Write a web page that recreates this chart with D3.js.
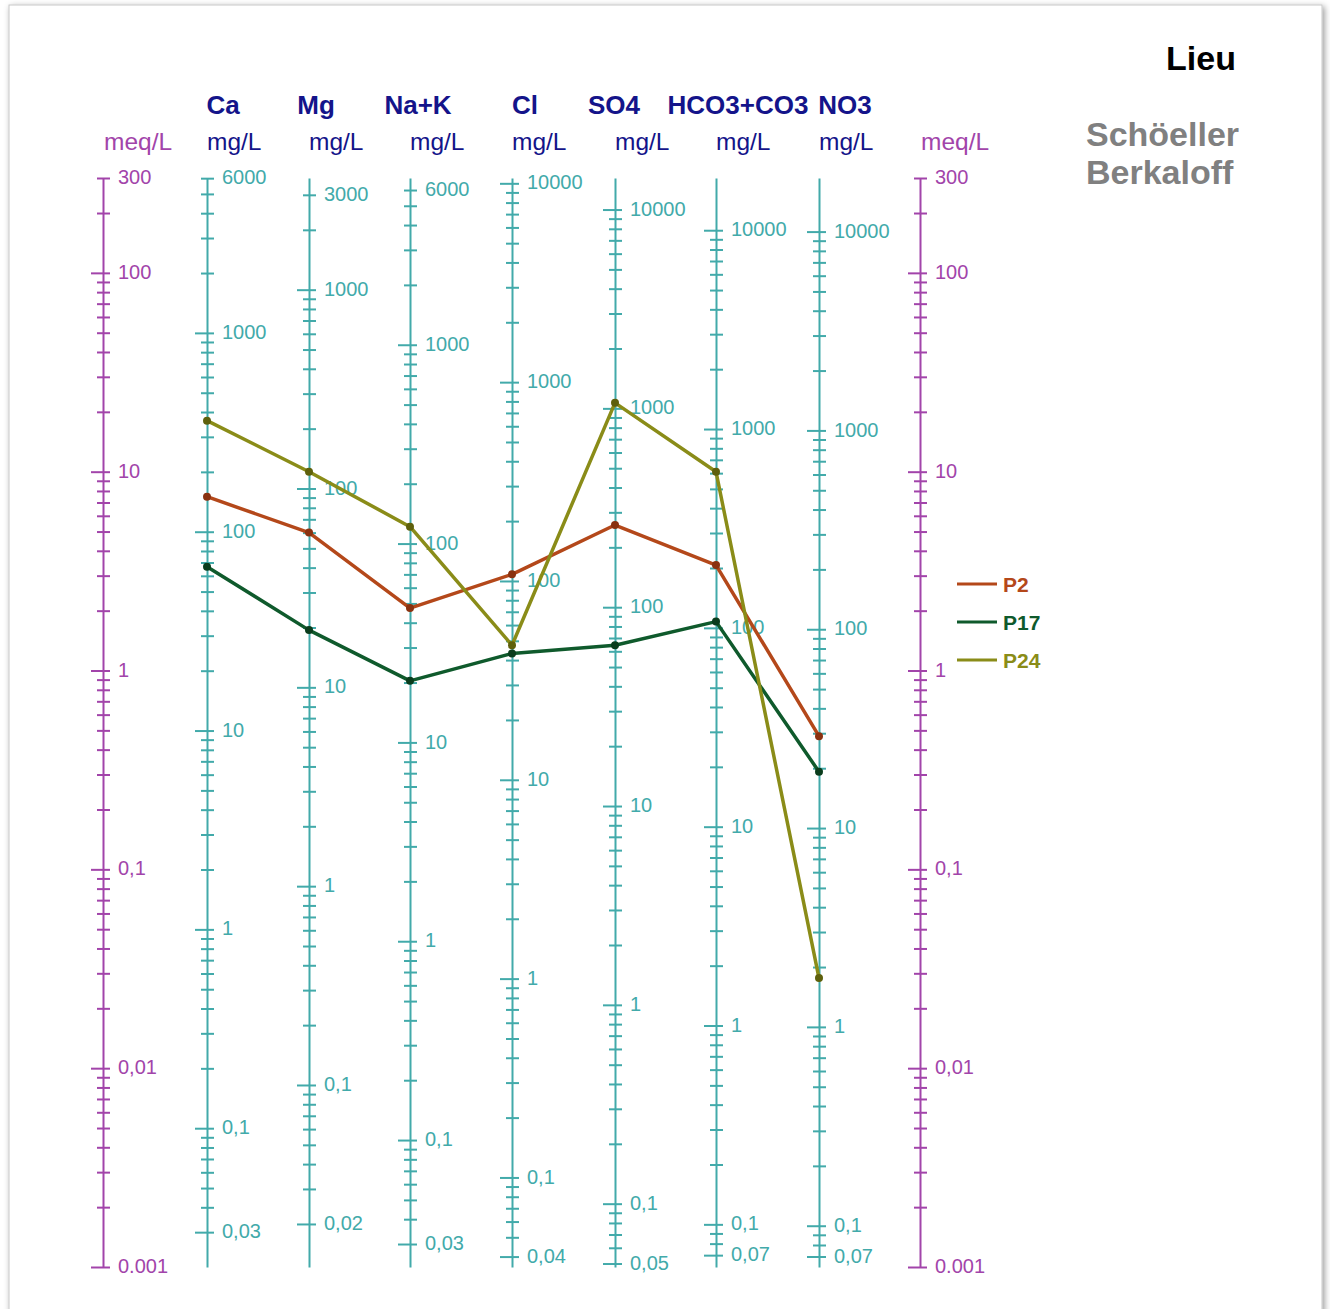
<!DOCTYPE html>
<html><head><meta charset="utf-8">
<script src="https://cdn.jsdelivr.net/npm/d3@7"></script>
<style>body{margin:0;background:#fff}svg{display:block}</style>
</head><body>
<script>
// Schoeller-Berkaloff diagram: concentrations (mg/L) plotted on ion axes
// that share one log meq/L scale.
const ions = ["Ca", "Mg", "Na+K", "Cl", "SO4", "HCO3+CO3", "NO3"];
const eqWeights = [20.04, 12.15, 22.99, 35.45, 48.03, 61.02, 62.0];
const samples = ["P2", "P17", "P24"];
const p2 = [150, 60, 47.4, 108, 259, 207, 29];
const p17 = [66.7, 19.4, 20.4, 43.2, 64.4, 107.5, 19.2];
const p24 = [362, 121.5, 121.6, 47.5, 1066, 610, 1.76];
const sampleColors = ["#b4481a", "#0f5a2c", "#8a8c18"];
const markerColors = ["#8a3210", "#0a3c1c", "#5e600c"];
const meqTickLabels = ["300", "100", "10", "1", "0,1", "0,01", "0.001"];
const ionTickLabels = [
  ["6000", "1000", "100", "10", "1", "0,1", "0,03"],
  ["3000", "1000", "100", "10", "1", "0,1", "0,02"],
  ["6000", "1000", "100", "10", "1", "0,1", "0,03"],
  ["10000", "1000", "100", "10", "1", "0,1", "0,04"],
  ["10000", "1000", "100", "10", "1", "0,1", "0,05"],
  ["10000", "1000", "100", "10", "1", "0,1", "0,07"],
  ["10000", "1000", "100", "10", "1", "0,1", "0,07"]
];
const meqRange = [300, 0.001];

const W = 1330, H = 1309;
const yTop = 178, yBot = 1267;
const meqX = [103, 920];
const ionX = [207, 309, 410, 512, 615, 716, 819];
const headerX = [223, 316, 418, 525, 614, 738, 845];
const teal = "#42aaaa", purple = "#a244aa", navy = "#14148a";
const FONT = "'Liberation Sans', Arial, sans-serif";

const svg = d3.select("body").append("svg").attr("width", W).attr("height", H);
const defs = svg.append("defs");
const f = defs.append("filter").attr("id", "shadow").attr("x", "-5%").attr("y", "-5%").attr("width", "110%").attr("height", "110%");
f.append("feDropShadow").attr("dx", 2).attr("dy", 2).attr("stdDeviation", 3).attr("flood-color", "#000").attr("flood-opacity", 0.4);

// page
svg.append("rect").attr("x", 9).attr("y", 5).attr("width", 1313).attr("height", 1330)
  .attr("fill", "#fff").attr("stroke", "#c8c8c8").attr("filter", "url(#shadow)");

const meqScale = d3.scaleLog().domain(meqRange).range([yTop, yBot]);
const parseLab = s => +s.replace(",", ".");
const same = (a, b) => Math.abs(a / b - 1) < 1e-6;
const isDecade = v => same(v, Math.pow(10, Math.round(Math.log10(v))));

function drawAxis(x, scale, labels, color) {
  const vals = labels.map(parseLab);
  const ticks = scale.ticks();
  const minTick = d3.min(ticks);
  const g = svg.append("g").attr("transform", `translate(${x},0)`);
  g.call(d3.axisRight(scale)
    .tickValues(ticks)
    .tickSize(7).tickSizeOuter(0).tickPadding(8)
    .tickFormat(d => { const i = vals.findIndex(v => same(v, d)); return i >= 0 ? labels[i] : ""; }));
  g.select(".domain").attr("stroke", color).attr("stroke-width", 2);
  g.selectAll(".tick line").attr("stroke", color).attr("stroke-width", 2)
    .attr("x1", d => (isDecade(d) || same(d, minTick)) ? -12 : -6);
  g.selectAll(".tick text").attr("fill", color).attr("dy", "0.28em")
    .style("font-family", FONT).style("font-size", "20px");
  return g;
}

drawAxis(meqX[0], meqScale, meqTickLabels, purple);
drawAxis(meqX[1], meqScale, meqTickLabels, purple);

const ionScales = eqWeights.map(ew =>
  d3.scaleLog().domain([meqRange[0] * ew, meqRange[1] * ew]).range([yTop, yBot]));
ionScales.forEach((s, i) => drawAxis(ionX[i], s, ionTickLabels[i], teal));

// headers
ions.forEach((name, i) => {
  svg.append("text").attr("x", headerX[i]).attr("y", 114).attr("text-anchor", "middle")
    .attr("fill", navy).style("font-family", FONT).style("font-weight", "bold").style("font-size", "26px")
    .text(name);
  svg.append("text").attr("x", ionX[i]).attr("y", 150).attr("fill", navy)
    .style("font-family", FONT).style("font-size", "24.5px").text("mg/L");
});
meqX.forEach(x => svg.append("text").attr("x", x + 1).attr("y", 150).attr("fill", purple)
  .style("font-family", FONT).style("font-size", "24.5px").text("meq/L"));

// title block
svg.append("text").attr("x", 1236).attr("y", 70).attr("text-anchor", "end").attr("fill", "#000")
  .style("font-family", FONT).style("font-weight", "bold").style("font-size", "34px").text("Lieu");
svg.append("text").attr("x", 1086).attr("y", 146).attr("fill", "#808080")
  .style("font-family", FONT).style("font-weight", "bold").style("font-size", "34px").text("Schöeller");
svg.append("text").attr("x", 1086).attr("y", 184).attr("fill", "#808080")
  .style("font-family", FONT).style("font-weight", "bold").style("font-size", "34px").text("Berkaloff");

// sample profiles
const series = [p2, p17, p24];
const line = d3.line().x(d => d.x).y(d => d.y);
series.forEach((vals, si) => {
  const pts = vals.map((v, i) => ({ x: ionX[i], y: ionScales[i](v) }));
  svg.append("path").attr("d", line(pts)).attr("fill", "none")
    .attr("stroke", sampleColors[si]).attr("stroke-width", 3.5).attr("stroke-linejoin", "round");
  svg.selectAll(null).data(pts).enter().append("circle")
    .attr("cx", d => d.x).attr("cy", d => d.y).attr("r", 4).attr("fill", markerColors[si]);
});

// legend
const legY = d3.scalePoint().domain(samples).range([584, 660]);
samples.forEach((s, si) => {
  svg.append("line").attr("x1", 957).attr("x2", 997).attr("y1", legY(s)).attr("y2", legY(s))
    .attr("stroke", sampleColors[si]).attr("stroke-width", 3);
  svg.append("text").attr("x", 1003).attr("y", legY(s) + 8).attr("fill", sampleColors[si])
    .style("font-family", FONT).style("font-weight", "bold").style("font-size", "21px").text(s);
});
</script>
</body></html>
